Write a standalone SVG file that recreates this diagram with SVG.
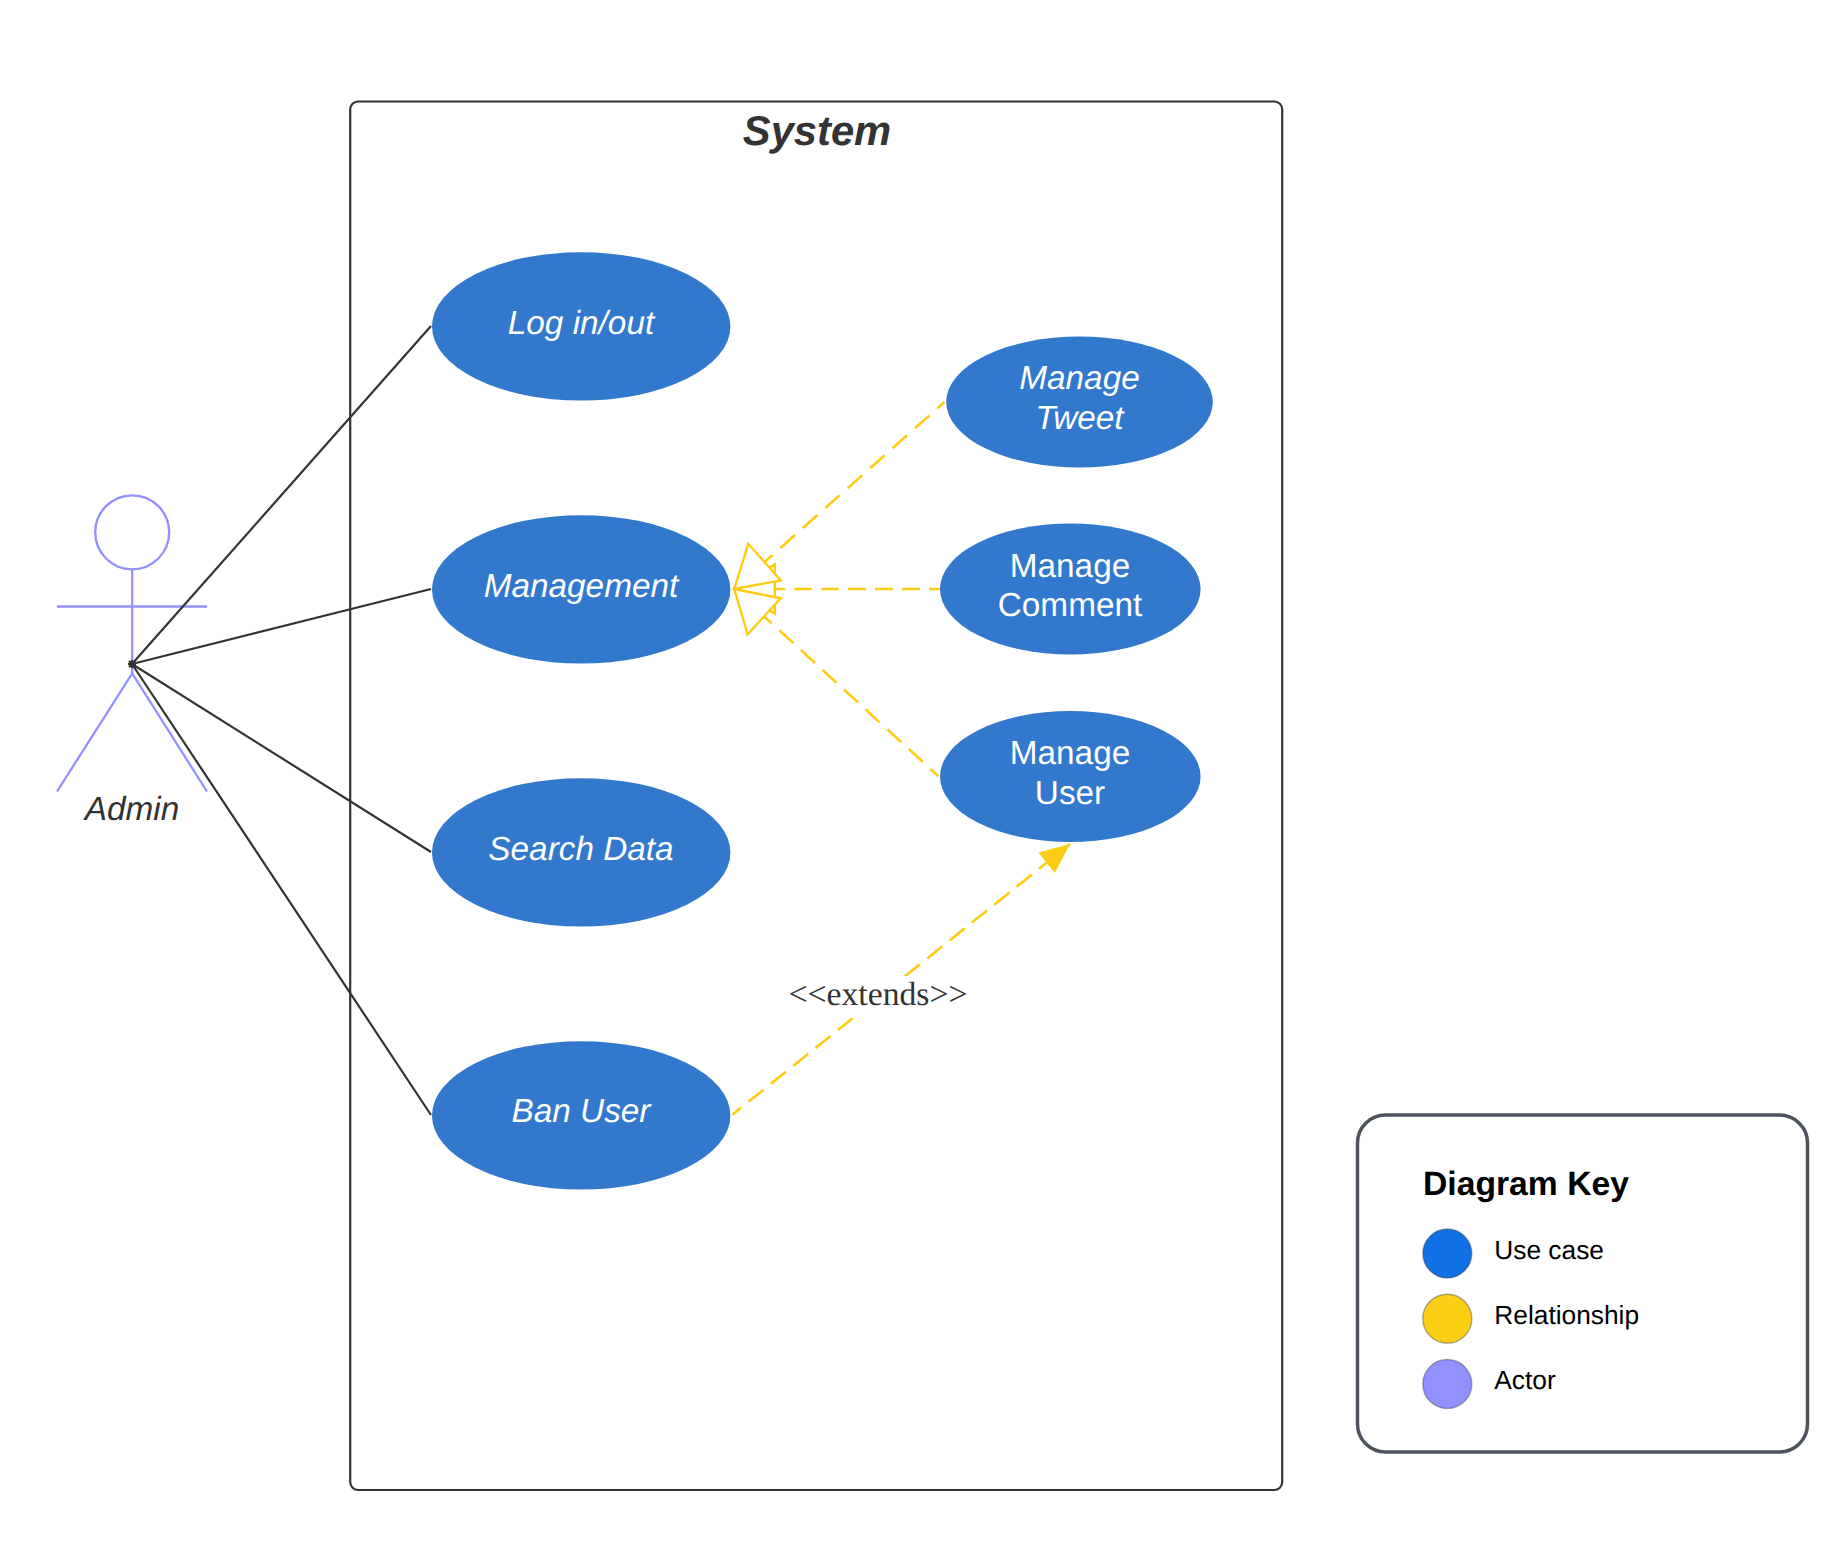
<svg xmlns="http://www.w3.org/2000/svg" width="1845" height="1541" viewBox="0 0 1845 1541">
<defs>
<style>
text{font-family:"Liberation Sans",Arial,sans-serif;font-size:33.33px;text-anchor:middle;text-rendering:geometricPrecision}
.uc{fill:#3278cc;stroke:none}
.w{fill:#fff}
.i{font-style:italic}
.assoc{stroke:#333;stroke-width:2.2;fill:none}
.dash{stroke:#fccd14;stroke-width:2.600;fill:none}
.act{stroke:#9391ff;stroke-width:2.300;fill:none}
.kt{font-size:26.3px;text-anchor:start;fill:#000}
.kc{stroke:#3a414a;stroke-opacity:.4;stroke-width:1.500}
</style>
<marker id="hollow" markerUnits="userSpaceOnUse" markerWidth="50" markerHeight="60" refX="4" refY="30" orient="auto" overflow="visible">
<path d="M4,30 L44.500,5.500 L44.500,54.500 Z" fill="#fff" stroke="#fccd14" stroke-width="2.400"/>
</marker>
<marker id="solid" markerUnits="userSpaceOnUse" markerWidth="34" markerHeight="30" refX="31" refY="15" orient="auto" overflow="visible">
<path d="M1,2 L31,15 L1,28 Z" fill="#fccd14"/>
</marker>
</defs>
<rect width="1845" height="1541" fill="#fff"/>
<g id="system">
<rect x="350.200" y="101.500" width="932" height="1388.500" rx="8" ry="8" fill="#fff" stroke="#333" stroke-width="2.200"/>
<text x="817" y="145" class="i" font-weight="700" style="font-size:41.7px" fill="#333">System</text>
</g>
<g id="admin">
<circle class="act" cx="132.200" cy="532.300" r="37"/>
<path class="act" d="M132.200,569 V673.500 M57,606.500 H207 M57,791.500 L132.200,673.500 L207,791.500"/>
<text x="132" y="820" class="i" fill="#333">Admin</text>
</g>
<g id="log-in-out"><ellipse class="uc" cx="581.200" cy="326.400" rx="149.200" ry="74.200"/><text x="581" y="334" class="w i">Log in/out</text></g>
<g id="management"><ellipse class="uc" cx="581.200" cy="589.400" rx="149.200" ry="74.200"/><text x="581" y="597" class="w i">Management</text></g>
<g id="search-data"><ellipse class="uc" cx="581.200" cy="852.400" rx="149.200" ry="74.200"/><text x="581" y="860" class="w i">Search Data</text></g>
<g id="ban-user"><ellipse class="uc" cx="581.200" cy="1115.400" rx="149.200" ry="74.200"/><text x="581" y="1122" class="w i">Ban User</text></g>
<g id="manage-tweet"><ellipse class="uc" cx="1079.500" cy="402" rx="133.300" ry="65.500"/><text x="1079.500" y="389" class="w i">Manage</text><text x="1079.500" y="429" class="w i">Tweet</text></g>
<g id="manage-comment"><ellipse class="uc" cx="1070.300" cy="589" rx="130.300" ry="65.500"/><text x="1070" y="577" class="w">Manage</text><text x="1070" y="616" class="w">Comment</text></g>
<g id="manage-user"><ellipse class="uc" cx="1070.300" cy="776.500" rx="130.300" ry="65.500"/><text x="1070" y="764" class="w">Manage</text><text x="1070" y="804" class="w">User</text></g>
<g id="connectors">
<path class="assoc" d="M132,664 L431,326 M132,664 L431,589 M132,664 L431,852 M132,664 L431,1115 M128,664 H136 M132,660 V668 M129,661 L135,667 M129,667 L135,661"/>
<path class="dash" style="stroke-dasharray:17.7 9.3;stroke-dashoffset:21.2" d="M734.300,589 H940" marker-start="url(#hollow)"/>
<path class="dash" style="stroke-dasharray:19.4 10.6;stroke-dashoffset:28.2" d="M734.300,589 L944.500,402" marker-start="url(#hollow)"/>
<path class="dash" style="stroke-dasharray:19.1 10.2;stroke-dashoffset:26.9" d="M734.300,589 L938.500,776.300" marker-start="url(#hollow)"/>
<path class="dash" style="stroke-dasharray:19.4 9.25;stroke-dashoffset:8" d="M732.300,1114.700 L1070,844" marker-end="url(#solid)"/>
<g id="extends-label">
<rect x="786" y="976" width="184" height="42" fill="#fff"/>
<text x="878" y="1004.500" style="font-family:'Liberation Serif',serif;font-size:33.7px" fill="#333">&lt;&lt;extends&gt;&gt;</text>
</g>
</g>
<g id="diagram-key">
<rect x="1357.500" y="1115" width="450" height="337" rx="28" ry="28" fill="#fff" stroke="#4c535d" stroke-width="3.500"/>
<text x="1423" y="1195" font-weight="700" style="text-anchor:start;font-size:33.7px" fill="#000">Diagram Key</text>
<circle class="kc" cx="1447.300" cy="1253.500" r="24.500" fill="#1071e5"/>
<text x="1494.300" y="1258.500" class="kt">Use case</text>
<circle class="kc" cx="1447.300" cy="1318.700" r="24.500" fill="#fcce14"/>
<text x="1494.300" y="1324" class="kt">Relationship</text>
<circle class="kc" cx="1447.300" cy="1384" r="24.500" fill="#9391ff"/>
<text x="1494.300" y="1389" class="kt">Actor</text>
</g>
</svg>
